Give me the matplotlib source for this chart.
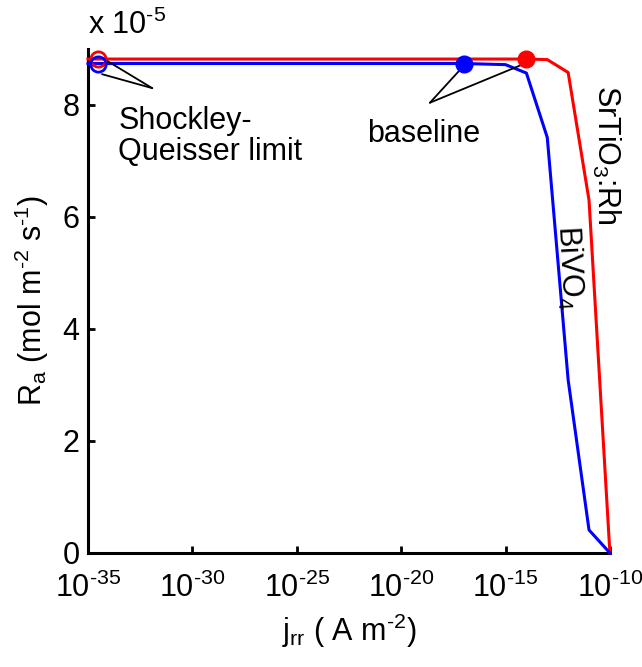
import numpy as np
import matplotlib
matplotlib.use('Agg')
import matplotlib.pyplot as plt

plt.rcParams['font.family'] = ['Liberation Sans', 'DejaVu Sans']
plt.rcParams['mathtext.fontset'] = 'custom'
plt.rcParams['mathtext.rm'] = 'Liberation Sans'
plt.rcParams['mathtext.it'] = 'Liberation Sans'
plt.rcParams['mathtext.default'] = 'regular'

# rates in units of 1e-5 mol m^-2 s^-1
x_red = [1e-35, 1e-14, 1e-13, 1e-12, 1e-11, 1e-10]
y_red = [8.82, 8.82, 8.81, 8.58, 6.30, 0.0]
x_blue = [1e-35, 1e-17, 1e-15, 1e-14, 1e-13, 1e-12, 1e-11, 1e-10]
y_blue = [8.74, 8.74, 8.72, 8.57, 7.42, 3.09, 0.41, 0.0]

sq_x = 3e-35
sq_red, sq_blue = 8.82, 8.74
base_red_x, base_red_y = 1e-14, 8.82
base_blue_x, base_blue_y = 1e-17, 8.74

xticks = [1e-35, 1e-30, 1e-25, 1e-20, 1e-15, 1e-10]
xtick_exp = ['-35', '-30', '-25', '-20', '-15', '-10']
yticks = [0, 2, 4, 6, 8]

fig = plt.figure(figsize=(6.42, 6.67), dpi=100)
ax = fig.add_axes([0.137, 0.171, 0.813, 0.7556])

ax.semilogx(x_red, y_red, color='#ff0000', lw=2.2, clip_on=False, zorder=3)
ax.semilogx(x_blue, y_blue, color='#0000ff', lw=2.2, clip_on=False, zorder=3)

ax.plot(sq_x, sq_red, 'o', mfc='none', mec='#ff0000', ms=11, mew=2, clip_on=False, zorder=4)
ax.plot(sq_x, sq_blue, 'o', mfc='none', mec='#0000ff', ms=11, mew=2, clip_on=False, zorder=4)
ax.plot(base_blue_x, base_blue_y, 'o', color='#0000ff', ms=12, clip_on=False, zorder=4)
ax.plot(base_red_x, base_red_y, 'o', color='#ff0000', ms=12, clip_on=False, zorder=4)

# annotation lines
line_kw = dict(arrowstyle='-', color='k', lw=1.3, shrinkA=0, shrinkB=0)
ax.annotate('', xy=(5.9e-35, 8.82), xytext=(1.2e-32, 8.30), arrowprops=line_kw)
ax.annotate('', xy=(4.7e-35, 8.55), xytext=(1.2e-32, 8.30), arrowprops=line_kw)
ax.annotate('', xy=(base_blue_x, 8.70), xytext=(2.4e-19, 8.04), arrowprops=line_kw)
ax.annotate('', xy=(6.3e-15, 8.72), xytext=(2.4e-19, 8.04), arrowprops=line_kw)

ax.text(2.8e-34, 7.98, 'Shockley-\nQueisser limit', fontsize=22, ha='left', va='top',
        linespacing=1.05)
ax.text(2.3e-22, 7.75, 'baseline', fontsize=22, ha='left', va='top')
ax.text(6.4e-11, 8.36, 'SrTiO$_3$:Rh', fontsize=22, rotation=-90, ha='center', va='top')
ax.text(1.1e-12, 5.86, 'BiVO$_4$', fontsize=22, rotation=-87, ha='center', va='top')

ax.set_xlim(1e-35, 1e-10)
ax.set_ylim(0, 9)
ax.set_xticks(xticks)
ax.set_xticklabels(['10$^{\\text{%s}}$' % e for e in xtick_exp])
ax.minorticks_off()
ax.set_yticks(yticks)
ax.set_yticklabels([str(v) for v in yticks])
ax.tick_params(direction='in', length=5, width=2, labelsize=22, pad=6)
ax.tick_params(axis='x', pad=14)
for s in ['top', 'right']:
    ax.spines[s].set_visible(False)
for s in ['left', 'bottom']:
    ax.spines[s].set_linewidth(2.2)

ax.set_xlabel('j$_{rr}$ ( A m$^{\\text{-2}}$)', fontsize=22, labelpad=6)
ax.set_ylabel('R$_a$ (mol m$^{\\text{-2}}$ s$^{\\text{-1}}$)', fontsize=22, labelpad=8)
fig.text(0.137, 1 - 34 / 667, 'x 10$^{\\text{-5}}$', fontsize=22, ha='left', va='baseline')

fig.savefig('out.png', dpi=100)
